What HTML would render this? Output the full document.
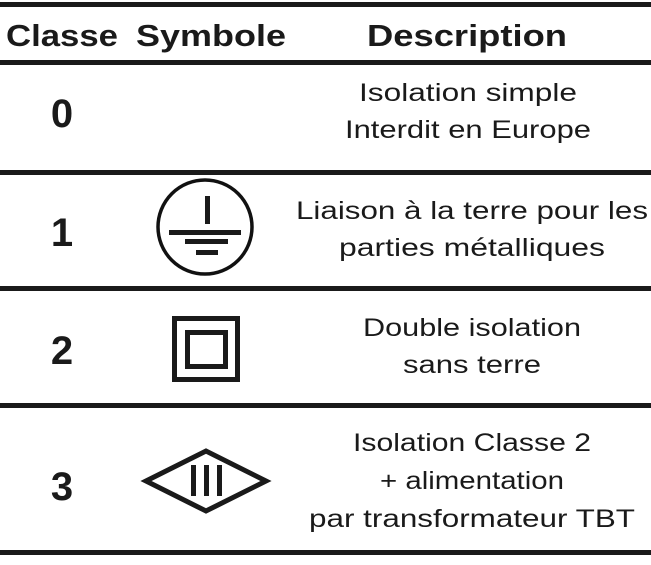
<!DOCTYPE html>
<html><head><meta charset="utf-8"><style>
html,body{margin:0;padding:0;background:#fff;}
svg{display:block;}
text{font-family:"Liberation Sans Narrow","Liberation Sans",sans-serif;fill:#1a1a1a;}
</style></head><body>
<svg width="651" height="565" viewBox="0 0 651 565" xmlns="http://www.w3.org/2000/svg">
<g fill="#1a1a1a">
<rect x="0" y="2" width="651" height="5"/>
<rect x="0" y="60" width="651" height="5"/>
<rect x="0" y="170" width="651" height="5"/>
<rect x="0" y="286" width="651" height="5"/>
<rect x="0" y="403" width="651" height="5"/>
<rect x="0" y="550" width="651" height="5"/>
</g>
<g font-weight="bold" font-size="31">
<text x="6" y="46" textLength="112" lengthAdjust="spacingAndGlyphs">Classe</text>
<text x="136" y="46" textLength="150" lengthAdjust="spacingAndGlyphs">Symbole</text>
<text x="367" y="46" textLength="200" lengthAdjust="spacingAndGlyphs">Description</text>
</g>
<g font-weight="bold" font-size="40" text-anchor="middle">
<text x="62" y="127">0</text>
<text x="62" y="246">1</text>
<text x="62" y="364">2</text>
<text x="62" y="500">3</text>
</g>
<g font-size="25" text-anchor="middle">
<text x="468" y="101" textLength="218" lengthAdjust="spacingAndGlyphs">Isolation simple</text>
<text x="468" y="138" textLength="246" lengthAdjust="spacingAndGlyphs">Interdit en Europe</text>
<text x="472" y="219" textLength="352" lengthAdjust="spacingAndGlyphs">Liaison à la terre pour les</text>
<text x="472" y="256" textLength="266" lengthAdjust="spacingAndGlyphs">parties métalliques</text>
<text x="472" y="336" textLength="218" lengthAdjust="spacingAndGlyphs">Double isolation</text>
<text x="472" y="373" textLength="138" lengthAdjust="spacingAndGlyphs">sans terre</text>
<text x="472" y="451" textLength="238" lengthAdjust="spacingAndGlyphs">Isolation Classe 2</text>
<text x="472" y="489" textLength="184" lengthAdjust="spacingAndGlyphs">+ alimentation</text>
<text x="472" y="527" textLength="326" lengthAdjust="spacingAndGlyphs">par transformateur TBT</text>
</g>
<circle cx="205" cy="227" r="47" fill="none" stroke="#111" stroke-width="3.5"/>
<g fill="#1a1a1a">
<rect x="205" y="196" width="5" height="28"/>
<rect x="169" y="230" width="72" height="5"/>
<rect x="185" y="239" width="43" height="5"/>
<rect x="196" y="250" width="22" height="5"/>
</g>
<rect x="174.5" y="318.5" width="63" height="61" fill="none" stroke="#1a1a1a" stroke-width="5"/>
<rect x="187.5" y="332.5" width="38" height="34" fill="none" stroke="#1a1a1a" stroke-width="5"/>
<polygon points="146,481 206,451 266,481 206,511" fill="none" stroke="#1a1a1a" stroke-width="5" stroke-linejoin="miter"/>
<g fill="#1a1a1a">
<rect x="191" y="465" width="5" height="31"/>
<rect x="204" y="465" width="5" height="31"/>
<rect x="217" y="465" width="5" height="31"/>
</g>
</svg>
</body></html>
